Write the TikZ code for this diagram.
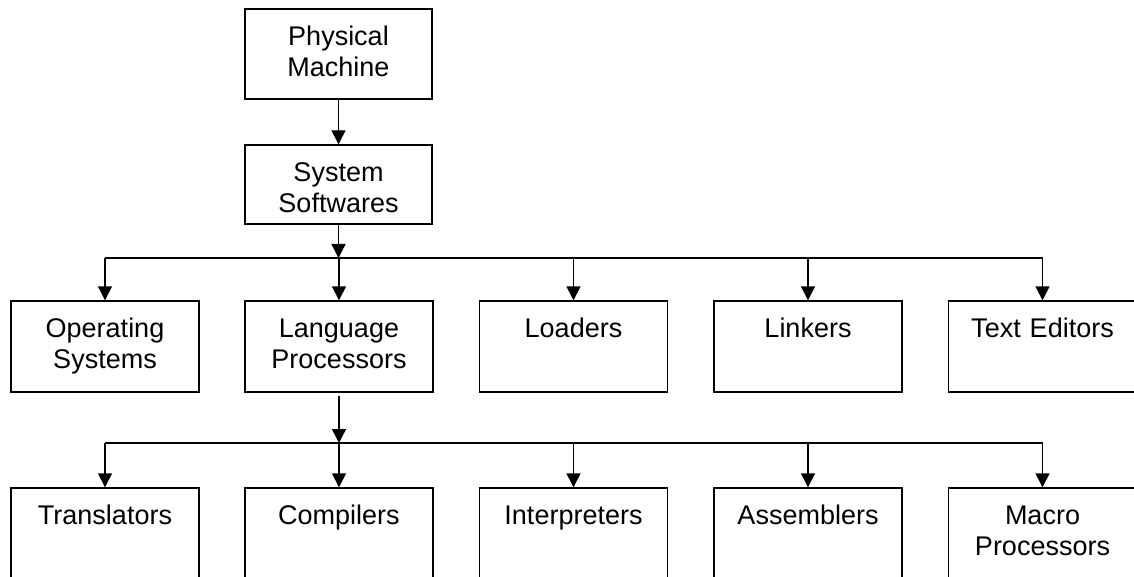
\documentclass[tikz,border=0pt]{standalone}
\usepackage{fontspec}
\setmainfont{Liberation Sans}
\usetikzlibrary{arrows.meta}

\tikzset{
  box/.style={draw, line width=1.4pt, rectangle, inner sep=0pt,
    minimum width=188pt, minimum height=91pt,
    text width=184pt, align=center,
    font=\fontsize{27}{31}\selectfont,
    text height=22pt, text depth=40pt},
  link/.style={line width=1.4pt},
  arrow/.style={link, -{Triangle[length=14pt,width=14pt]}}
}

\begin{document}
\begin{tikzpicture}[x=1pt, y=-1pt]
  \useasboundingbox (0,0) rectangle (1134,577);
  \clip (0,0) rectangle (1134,577);

  % top of the hierarchy
  \node[box, minimum width=187pt, minimum height=90pt, text depth=39pt]
    (pm) at (338.5,54) {Physical\\Machine};
  \node[box, minimum width=187pt, minimum height=79pt, text depth=28pt]
    (ss) at (338.5,184.5) {System\\Softwares};

  % first level of system software
  \node[box] (os)  at (105,346.5)    {Operating\\Systems};
  \node[box] (lp)  at (339,346.5)    {Language\\Processors};
  \node[box] (ld)  at (573.5,346.5)  {Loaders\\\mbox{}};
  \node[box] (lk)  at (808,346.5)    {Linkers\\\mbox{}};
  \node[box] (te)  at (1042.5,346.5) {Text Editors\\\mbox{}};

  % kinds of language processors
  \node[box] (tr)  at (105,533.5)    {Translators\\\mbox{}};
  \node[box] (co)  at (339,533.5)    {Compilers\\\mbox{}};
  \node[box] (in)  at (573.5,533.5)  {Interpreters\\\mbox{}};
  \node[box] (as)  at (808,533.5)    {Assemblers\\\mbox{}};
  \node[box] (mp)  at (1042.5,533.5) {Macro\\Processors};

  % bus lines
  \coordinate (busA) at (338.5,258);
  \coordinate (busB) at (339,443);

  \draw[arrow] (pm) -- (ss);

  \draw[arrow] (ss.south) -- (busA);
  \draw[link] (os.north |- busA) -- (te.north |- busA);
  \foreach \n in {os,lp,ld,lk,te}
    \draw[arrow] (\n.north |- busA) -- (\n.north);

  \draw[arrow] ([yshift=-3pt]lp.south) -- (busB);
  \draw[link] (tr.north |- busB) -- (mp.north |- busB);
  \foreach \n in {tr,co,in,as,mp}
    \draw[arrow] (\n.north |- busB) -- (\n.north);
\end{tikzpicture}
\end{document}
